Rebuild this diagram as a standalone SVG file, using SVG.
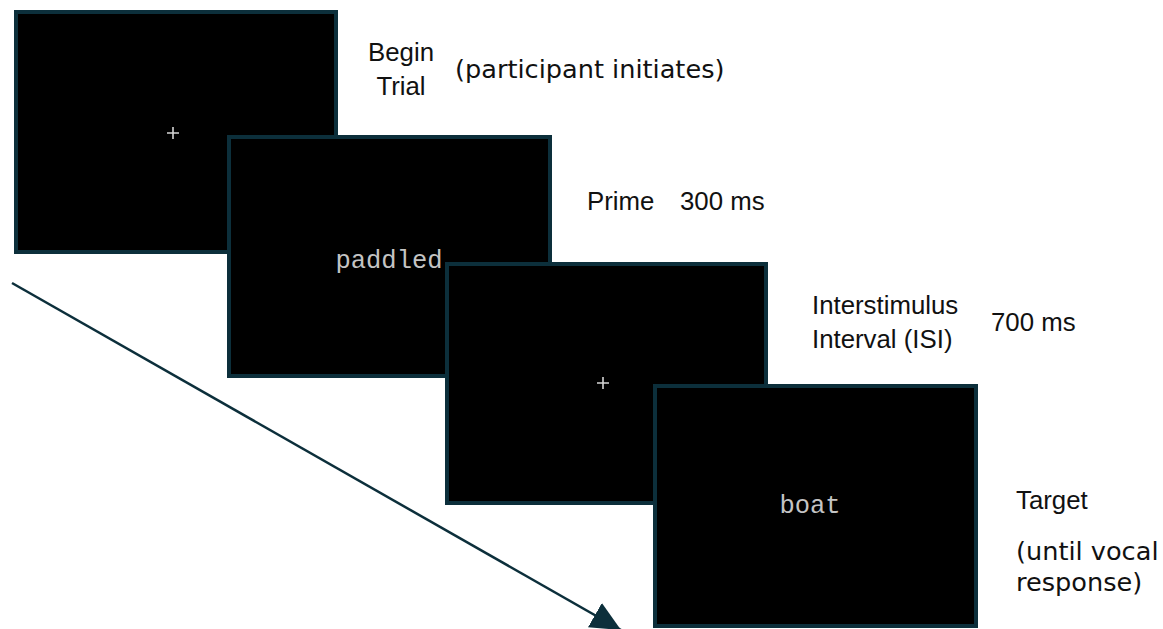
<svg xmlns="http://www.w3.org/2000/svg" width="1163" height="629" viewBox="0 0 1163 629">
  <style>
    .screen { fill: #000000; stroke: #0c2f3b; stroke-width: 4; }
    .stim { font-family: "Liberation Mono", "Courier New", monospace; fill: #c4c4c4; text-anchor: middle; }
    .lbl { font-family: "Liberation Sans", Arial, sans-serif; font-size: 25.8px; fill: #111111; }
    .lbl2 { font-family: "DejaVu Sans", Verdana, sans-serif; font-size: 25.6px; fill: #111111; }
    .fix { stroke: #d4d4d4; stroke-width: 1.6; }
  </style>
  <defs>
    <marker id="arrowhead" markerUnits="userSpaceOnUse" markerWidth="34" markerHeight="30" refX="30" refY="14" orient="auto">
      <path d="M0,0 L30,14 L0,28 Z" fill="#0c2f3b"/>
    </marker>
  </defs>
  <rect width="1163" height="629" fill="#ffffff"/>

  <g id="screen-begin">
    <rect class="screen" x="16" y="12" width="320" height="240"/>
    <path class="fix" d="M167,133 H179 M173,127 V139"/>
  </g>
  <g id="label-begin">
    <text class="lbl" x="401" y="61" text-anchor="middle">Begin</text>
    <text class="lbl" x="401" y="95" text-anchor="middle">Trial</text>
    <text class="lbl2" x="455" y="78">(participant initiates)</text>
  </g>

  <g id="screen-prime">
    <rect class="screen" x="229" y="137" width="321" height="239"/>
    <text class="stim" x="389" y="268" font-size="25.5">paddled</text>
  </g>
  <g id="label-prime">
    <text class="lbl" x="587" y="209.5">Prime</text>
    <text class="lbl" x="680" y="209.5">300 ms</text>
  </g>

  <g id="screen-isi">
    <rect class="screen" x="447" y="264" width="319" height="239"/>
    <path class="fix" d="M597,383 H609 M603,377 V389"/>
  </g>
  <g id="label-isi">
    <text class="lbl" x="812" y="314">Interstimulus</text>
    <text class="lbl" x="812" y="348">Interval (ISI)</text>
    <text class="lbl" x="991" y="331">700 ms</text>
  </g>

  <g id="screen-target">
    <rect class="screen" x="655" y="386" width="321" height="240"/>
    <text class="stim" x="810" y="513" font-size="25.5">boat</text>
  </g>
  <g id="label-target">
    <text class="lbl" x="1016" y="509">Target</text>
    <text class="lbl2" x="1016" y="560">(until vocal</text>
    <text class="lbl2" x="1016" y="591">response)</text>
  </g>

  <g id="connectors">
    <line x1="12" y1="283" x2="621" y2="630" stroke="#0c2f3b" stroke-width="2.5" marker-end="url(#arrowhead)"/>
  </g>
</svg>
